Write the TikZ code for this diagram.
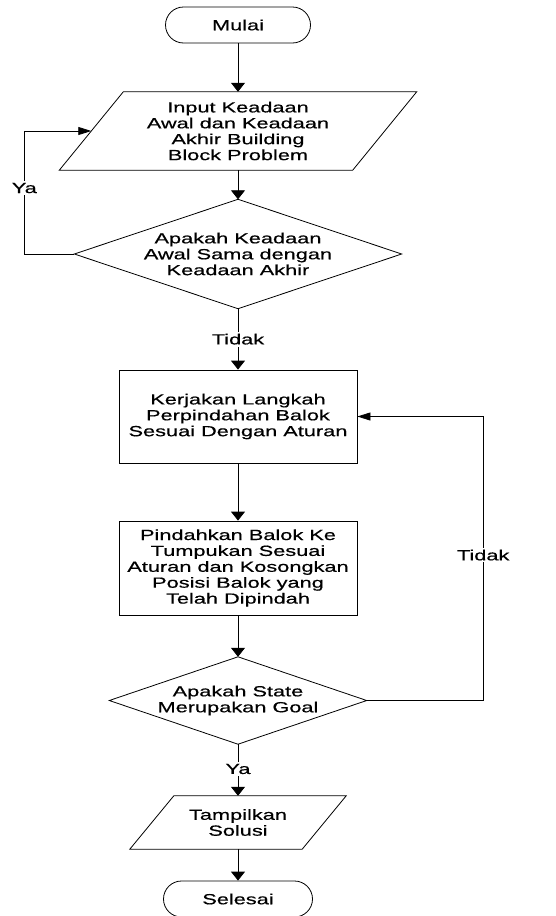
\documentclass[tikz,border=0pt]{standalone}
\usepackage{fontspec}
\setmainfont{Liberation Sans}[FakeStretch=1.48,FakeBold=0.5]
\usetikzlibrary{arrows.meta}
\begin{document}
\begin{tikzpicture}[x=1pt,y=-1pt,
  every node/.style={font=\fontsize{14.7}{15.9}\selectfont, align=center, inner sep=0pt},
  outline/.style={draw=black, line width=0.8pt},
  term/.style={outline, rounded corners=18pt, minimum height=36pt},
  proc/.style={outline, minimum width=238pt},
  lbl/.style={fill=white, inner sep=2pt},
  varr/.style={line width=0.8pt, -{Triangle[length=9pt,width=14pt]}},
  harr/.style={line width=0.8pt, -{Triangle[length=13pt,width=8pt]}}
]
\useasboundingbox (0,0) rectangle (555,916);

\node[term, minimum width=145pt] (start) at (238,25) {Mulai};
\node[minimum width=293pt, minimum height=78pt] (io1) at (238,131)
  {Input Keadaan\\Awal dan Keadaan\\Akhir Building\\Block Problem};
\draw[outline] ([xshift=32pt]io1.north west) -- ([xshift=32pt]io1.north east)
  -- ([xshift=-32pt]io1.south east) -- ([xshift=-32pt]io1.south west) -- cycle;

\node[minimum width=327pt, minimum height=109pt] (d1) at (238,254)
  {Apakah Keadaan\\Awal Sama dengan\\Keadaan Akhir};
\draw[outline] (d1.north) -- (d1.east) -- (d1.south) -- (d1.west) -- cycle;

\node[proc, minimum height=93pt] (b1) at (238,416.5)
  {Kerjakan Langkah\\Perpindahan Balok\\Sesuai Dengan Aturan};
\node[proc, minimum height=94pt] (b2) at (238,568)
  {Pindahkan Balok Ke\\Tumpukan Sesuai\\Aturan dan Kosongkan\\Posisi Balok yang\\Telah Dipindah};

\node[minimum width=257pt, minimum height=87pt] (d2) at (238,700.5)
  {Apakah State\\Merupakan Goal};
\draw[outline] (d2.north) -- (d2.east) -- (d2.south) -- (d2.west) -- cycle;

\node[minimum width=172pt, minimum height=53pt] (io2) at (238,822.5)
  {Tampilkan\\Solusi};
\draw[outline] ([xshift=22pt]io2.north west) -- ([xshift=22pt]io2.north east)
  -- ([xshift=-22pt]io2.south east) -- ([xshift=-22pt]io2.south west) -- cycle;

\node[term, minimum width=149pt] (end) at (238,899) {Selesai};

\draw[varr] (start) -- (io1);
\draw[varr] (io1) -- (d1);
\draw[varr] (d1.south) -- node[lbl, pos=0.5] {Tidak} (b1.north);
\draw[varr] (b1) -- (b2);
\draw[varr] (b2) -- (d2);
\draw[varr] (d2.south) -- node[lbl, pos=0.48] {Ya} (io2.north);
\draw[varr] (io2) -- (end);

\draw[harr] (d1.west) -- ++(-50,0) |- node[lbl, pos=0.268] {Ya} (io1.west);
\draw[harr] (d2.east) -- ++(116.5,0) |- node[lbl, pos=0.256] {Tidak} (b1.east);
\end{tikzpicture}
\end{document}
